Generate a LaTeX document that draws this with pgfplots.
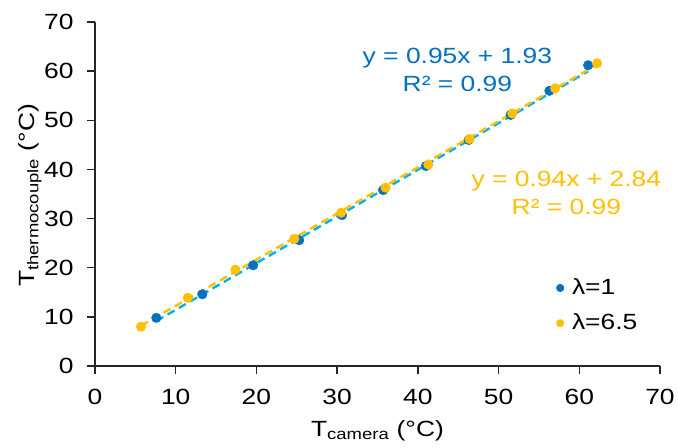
\documentclass[border=0pt]{standalone}
\usepackage{pgfplots}
\pgfplotsset{compat=1.18}
\usepackage{fontspec}
\setmainfont{Liberation Sans}[FakeStretch=1.2]
\definecolor{cblue}{HTML}{0070C0}
\definecolor{corange}{HTML}{FFC000}
\definecolor{ctrend}{HTML}{00B0F0}
\begin{document}
\fontsize{22}{26}\selectfont
\begin{tikzpicture}
\begin{axis}[
  scale only axis, width=565pt, height=344pt,
  xmin=0, xmax=70, ymin=0, ymax=70,
  xtick={0,10,...,70}, ytick={0,10,...,70},
  axis x line*=bottom, axis y line*=left,
  tick align=outside, major tick length=8pt,
  axis line style={line width=1.3pt, color=black!85},
  tick style={line width=1.3pt, color=black!85},
  /pgf/number format/assume math mode=true,
  ticklabel style={font=\fontsize{22}{26}\selectfont},
  xticklabel style={yshift=-8pt},
  yticklabel style={xshift=-6pt},
  every axis x label/.style={at={(axis description cs:0.5,-0.187)},anchor=center},
  every axis y label/.style={at={(axis description cs:-0.115,0.496)},rotate=90,anchor=center},
  xlabel={T\textsubscript{camera} (°C)},
  ylabel={T\textsubscript{thermocouple} (°C)},
  legend style={draw=none, fill=none, at={(axis description cs:0.811,0.267)}, anchor=north west,
    font=\fontsize{22}{26}\selectfont, row sep=12pt},
  legend cell align=left,
  legend image code/.code={\path[draw=none,fill=none] (-3.8pt,0pt) -- (9.8pt,0pt); \draw[mark size=3.8pt,#1] plot coordinates {(0pt,0pt)};},
]
\addplot[only marks, mark=*, mark size=4.8pt, color=cblue] coordinates {
 (7.6,9.8) (13.3,14.6) (19.6,20.5) (25.3,25.6) (30.6,30.7) (35.7,35.8)
 (41.0,40.7) (46.3,46.0) (51.5,51.1) (56.3,56.0) (61.1,61.2)};
\addlegendentry{λ=1}
\addplot[only marks, mark=*, mark size=4.8pt, color=corange] coordinates {
 (5.7,8.0) (11.5,13.9) (17.4,19.6) (24.7,25.9) (30.5,31.2) (36.0,36.3)
 (41.3,41.0) (46.4,46.2) (51.7,51.4) (57.0,56.5) (62.2,61.6)};
\addlegendentry{λ=6.5}
\addplot[forget plot, color=ctrend, line width=2.4pt, dash pattern=on 8pt off 5pt] coordinates {
 (7.6,9.15) (61.1,59.97)};
\addplot[forget plot, color=corange, line width=2.4pt, dash pattern=on 8pt off 5pt] coordinates {
 (5.7,8.20) (62.2,61.31)};
\node[color=cblue, align=center, font=\fontsize{22}{28}\selectfont] at (axis cs:44.9,60.3) {y = 0.95x + 1.93\\R² = 0.99};
\node[color=corange, align=center, font=\fontsize{22}{28}\selectfont] at (axis cs:58.4,35.3) {y = 0.94x + 2.84\\R² = 0.99};
\end{axis}
\pgfresetboundingbox
\path[use as bounding box] (-95pt,-81.3pt) rectangle (583pt,366pt);
\end{tikzpicture}
\end{document}
